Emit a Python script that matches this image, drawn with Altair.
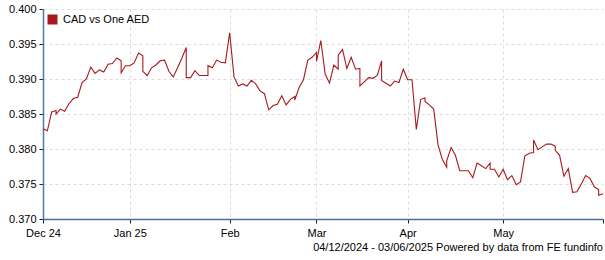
import altair as alt
import pandas as pd
import numpy as np

# ---------------- data ----------------
start_date = "2024-12-04"
end_date = "2025-06-03"
series_name = "CAD vs One AED"

# one value per weekday (Dec 4 2024 .. Jun 3 2025)
weekday_values = [
    0.3829, 0.3826, 0.3853, 0.3850, 0.3857, 0.3854, 0.3865, 0.3872, 0.3874, 0.3895,  # 0-9
    0.3900, 0.3917, 0.3908, 0.3913, 0.3910, 0.3921, 0.3922, 0.3930, 0.3909, 0.3919,  # 10-19
    0.3919, 0.3923, 0.3937, 0.3911, 0.3905, 0.3916, 0.3920, 0.3926, 0.3927, 0.3911,  # 20-29
    0.3903, 0.3916, 0.3930, 0.3902, 0.3902, 0.3912, 0.3905, 0.3905, 0.3919, 0.3916,  # 30-39
    0.3927, 0.3924, 0.3923, 0.3966, 0.3903, 0.3890, 0.3893, 0.3890, 0.3898, 0.3893,  # 40-49
    0.3883, 0.3879, 0.3856, 0.3862, 0.3864, 0.3876, 0.3863, 0.3871, 0.3870, 0.3888,  # 50-59
    0.3899, 0.3927, 0.3931, 0.3925, 0.3955, 0.3907, 0.3894, 0.3920, 0.3934, 0.3942,  # 60-69
    0.3915, 0.3931, 0.3914, 0.3890, 0.3896, 0.3902, 0.3901, 0.3905, 0.3898, 0.3894,  # 70-79
    0.3890, 0.3897, 0.3895, 0.3914, 0.3899, 0.3899, 0.3828, 0.3871, 0.3868, 0.3863,  # 80-89
    0.3857, 0.3806, 0.3785, 0.3783, 0.3802, 0.3791, 0.3769, 0.3769, 0.3769, 0.3759,  # 90-99
    0.3780, 0.3776, 0.3772, 0.3771, 0.3771, 0.3760, 0.3771, 0.3756, 0.3762, 0.3749,  # 100-109
    0.3753, 0.3790, 0.3794, 0.3813, 0.3799, 0.3803, 0.3807, 0.3807, 0.3798, 0.3791,  # 110-119
    0.3761, 0.3772, 0.3738, 0.3739, 0.3750, 0.3762, 0.3758, 0.3746, 0.3734, 0.3736,  # 120-129
]

# weekend quotes (drawn at the following Monday's position)
weekend_dates = [
    "2024-12-08", "2024-12-29", "2025-01-05", "2025-01-19", "2025-01-26",
    "2025-02-23", "2025-03-02", "2025-03-09", "2025-03-16", "2025-03-23",
    "2025-04-06", "2025-04-13", "2025-04-27", "2025-05-11", "2025-05-18",
    "2025-06-01",
]
weekend_values = [
    0.3855, 0.3926, 0.3933, 0.3945, 0.3905,
    0.3875, 0.3938, 0.3914, 0.3915, 0.3926,
    0.3873, 0.3774, 0.3780, 0.3795, 0.3804,
    0.3742,
]

tick_dates = ["2024-12-04", "2025-01-01", "2025-02-01", "2025-03-01",
              "2025-04-01", "2025-05-01", "2025-06-03"]
tick_labels = ["Dec 24", "Jan 25", "Feb", "Mar", "Apr", "May", ""]
y_ticks = [0.370, 0.375, 0.380, 0.385, 0.390, 0.395, 0.400]
footer_text = "04/12/2024 - 03/06/2025 Powered by data from FE fundinfo"

# ---------------- build table ----------------
start64 = np.datetime64(start_date)
wd_dates = pd.bdate_range(start_date, end_date)
wd_slots = np.busday_count(start64, np.array(wd_dates.values, dtype="datetime64[D]"))
we_slots = np.busday_count(start64, np.array(weekend_dates, dtype="datetime64[D]"))

rows = []
for d, s, v in zip(wd_dates.strftime("%Y-%m-%d"), wd_slots, weekday_values):
    rows.append({"date": d, "slot": int(s), "order": int(s) * 2 + 1, "value": v,
                 "series": series_name})
for d, s, v in zip(weekend_dates, we_slots, weekend_values):
    rows.append({"date": d, "slot": int(s), "order": int(s) * 2, "value": v,
                 "series": series_name})
df = pd.DataFrame(rows).sort_values("order")

n_slots = len(weekday_values)
tick_slots = [int(s) for s in np.busday_count(start64, np.array(tick_dates, dtype="datetime64[D]"))]
tick_slots[-1] = n_slots - 1

label_expr = ""
for s, lab in zip(tick_slots, tick_labels):
    label_expr += f"datum.value == {s} ? '{lab}' : "
label_expr += "''"

line_color = "#a8191c"
font = "Liberation Sans"

line = alt.Chart(df).mark_line(strokeWidth=1.1, interpolate="linear").encode(
    x=alt.X("slot:Q",
            scale=alt.Scale(domain=[0, n_slots - 1], nice=False, zero=False),
            axis=alt.Axis(values=tick_slots, labelExpr=label_expr, title=None,
                          domainColor="#4a6d9a", tickColor="#222222", tickSize=4,
                          labelPadding=4, gridColor="#dcdcdc", gridDash=[3, 3],
                          gridOpacity={"condition": {"test": f"datum.value == {n_slots - 1}",
                                                     "value": 0},
                                       "value": 1},
                          labelFlush=False, labelOverlap=False)),
    y=alt.Y("value:Q",
            scale=alt.Scale(domain=[0.370, 0.400], nice=False, zero=False),
            axis=alt.Axis(values=y_ticks, format=".3f", title=None,
                          domainColor="#4a7ab5", tickColor="#222222", tickSize=4,
                          labelPadding=3, gridColor="#dcdcdc", gridDash=[3, 3])),
    order="order:Q",
    color=alt.Color("series:N",
                    scale=alt.Scale(domain=[series_name], range=[line_color]),
                    legend=alt.Legend(orient="none", legendX=4, legendY=5, title=None,
                                      symbolType="square", symbolSize=100,
                                      symbolFillColor=line_color, symbolStrokeWidth=0,
                                      labelFont=font, labelFontSize=11,
                                      labelColor="black", padding=0, labelOffset=5)),
)

footer = alt.Chart(pd.DataFrame({"t": [footer_text]})).mark_text(
    align="right", baseline="middle", font=font, fontSize=11, color="black"
).encode(x=alt.value(560), y=alt.value(239), text="t:N")

chart = alt.layer(line, footer).properties(
    width=560, height=210,
    autosize=alt.AutoSizeParams(type="none"),
    padding={"left": 43, "top": 9, "right": 2, "bottom": 41},
).configure_view(stroke=None).configure_axis(
    labelFont=font, labelFontSize=11, labelColor="black", domainWidth=1.5
)

chart.save("out.html", embed_options={"renderer": "svg", "actions": False})
